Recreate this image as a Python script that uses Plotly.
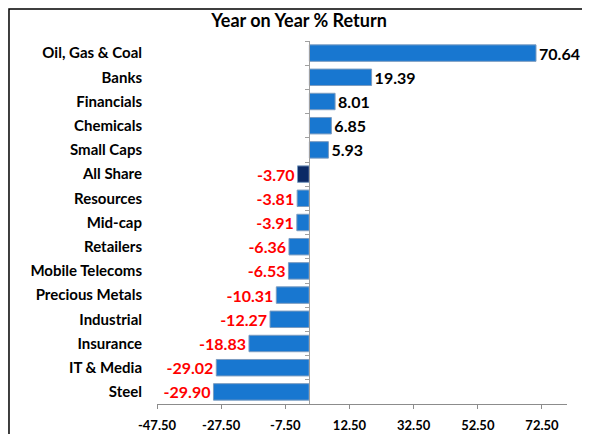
import plotly.graph_objects as go

categories = ["Oil, Gas & Coal", "Banks", "Financials", "Chemicals", "Small Caps",
              "All Share", "Resources", "Mid-cap", "Retailers", "Mobile Telecoms",
              "Precious Metals", "Industrial", "Insurance", "IT & Media", "Steel"]
values = [70.64, 19.39, 8.01, 6.85, 5.93, -3.70, -3.81, -3.91, -6.36, -6.53,
          -10.31, -12.27, -18.83, -29.02, -29.90]
tick_vals = [-47.5, -27.5, -7.5, 12.5, 32.5, 52.5, 72.5]
tick_text = ["-47.50", "-27.50", "-7.50", "12.50", "32.50", "52.50", "72.50"]

highlight = "All Share"
bar_colors = ["#0B2A66" if c == highlight else "#1877D0" for c in categories]
label_colors = ["#000000" if v >= 0 else "#FF0000" for v in values]
labels = [f"{v:.2f}" for v in values]

FONT = "Lato"

fig = go.Figure()
# helper trace for the category axis drawn at zero (boundary tick marks)
fig.add_trace(go.Bar(x=[0] * len(categories), y=categories, orientation="h",
                     yaxis="y2", showlegend=False, hoverinfo="skip",
                     marker=dict(color="rgba(0,0,0,0)")))
fig.add_trace(go.Bar(
    x=values, y=categories, orientation="h",
    marker=dict(color=bar_colors, line=dict(color="#7B9CC0", width=1)),
    width=0.68,
    text=labels, textposition="outside", constraintext="none",
    textfont=dict(family=FONT, size=16, color=label_colors, weight="bold"),
    cliponaxis=False, showlegend=False, hoverinfo="x+y",
))

x_range = [-47.5, 80.3]
zero_pos = (0 - x_range[0]) / (x_range[1] - x_range[0])

fig.update_layout(
    width=582, height=426,
    margin=dict(l=149, r=23, t=33, b=30, autoexpand=False),
    paper_bgcolor="white", plot_bgcolor="white",
    title=dict(text="<b>Year on Year % Return</b>", x=0.5, xanchor="center",
               y=0.97, yanchor="middle",
               font=dict(family=FONT, size=18, color="#000000")),
    font=dict(family=FONT, color="#000000"),
    xaxis=dict(range=x_range, tickvals=tick_vals, ticktext=tick_text,
               showgrid=False, zeroline=True, zerolinecolor="#A0A0A0",
               zerolinewidth=1, showline=True, automargin=False,
               linecolor="#8C8C8C", linewidth=1, ticks="outside", ticklen=4,
               tickcolor="#8C8C8C", ticklabelstandoff=5,
               tickfont=dict(family=FONT, size=13, color="#000000", weight="bold")),
    yaxis=dict(autorange="reversed", showgrid=False, zeroline=False,
               showline=False, ticks="", ticklabelstandoff=14, automargin=False,
               tickfont=dict(family=FONT, size=15, color="#000000", weight="bold")),
    yaxis2=dict(overlaying="y", anchor="free", position=zero_pos, side="left",
                autorange="reversed", showgrid=False, zeroline=False,
                showline=True, linecolor="#A0A0A0", linewidth=1, automargin=False,
                ticks="outside", ticklen=4, tickcolor="#A0A0A0",
                tickson="boundaries", showticklabels=False,
                categoryorder="array", categoryarray=categories),
    bargap=0.3, barmode="overlay",
    shapes=[dict(type="rect", xref="paper", yref="paper",
                 x0=-0.361, x1=1.0488, y0=-0.2, y1=1.088,
                 line=dict(color="#000000", width=1.5), fillcolor="rgba(0,0,0,0)",
                 layer="below")],
)

fig.write_html("out.html")
